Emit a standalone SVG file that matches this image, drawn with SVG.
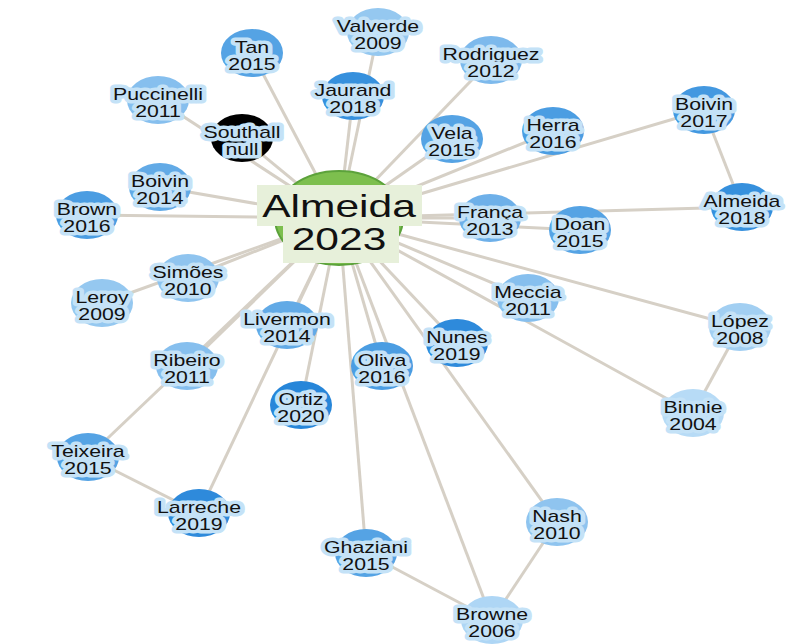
<svg xmlns="http://www.w3.org/2000/svg" width="792" height="644" viewBox="0 0 792 644">
<style>
.e{stroke:#d6d0c6;stroke-width:3;fill:none}
.n text{font-family:"Liberation Sans",Arial,sans-serif;font-size:16px;fill:#111;text-anchor:middle;stroke:#c4e2f7;stroke-width:7;stroke-linejoin:round;paint-order:stroke}
.c text{font-family:"Liberation Sans",Arial,sans-serif;font-size:32px;fill:#111;text-anchor:middle}
.cbg{fill:#e7f0da}
</style>
<rect width="792" height="644" fill="#fff"/>
<g id="edges">
<line class="e" x1="339" y1="218" x2="252" y2="53"/>
<line class="e" x1="339" y1="218" x2="378" y2="32"/>
<line class="e" x1="339" y1="218" x2="353" y2="96"/>
<line class="e" x1="339" y1="218" x2="491" y2="60"/>
<line class="e" x1="339" y1="218" x2="158" y2="100"/>
<line class="e" x1="339" y1="218" x2="242" y2="138"/>
<line class="e" x1="339" y1="218" x2="452" y2="139"/>
<line class="e" x1="339" y1="218" x2="553" y2="131"/>
<line class="e" x1="339" y1="218" x2="704" y2="110"/>
<line class="e" x1="339" y1="218" x2="160" y2="187"/>
<line class="e" x1="339" y1="218" x2="87" y2="215"/>
<line class="e" x1="339" y1="218" x2="742" y2="207"/>
<line class="e" x1="339" y1="218" x2="490" y2="218"/>
<line class="e" x1="339" y1="218" x2="580" y2="230"/>
<line class="e" x1="339" y1="218" x2="188" y2="278"/>
<line class="e" x1="339" y1="218" x2="102" y2="303"/>
<line class="e" x1="339" y1="218" x2="528" y2="298"/>
<line class="e" x1="339" y1="218" x2="740" y2="327"/>
<line class="e" x1="339" y1="218" x2="287" y2="325"/>
<line class="e" x1="339" y1="218" x2="457" y2="343"/>
<line class="e" x1="339" y1="218" x2="187" y2="366"/>
<line class="e" x1="339" y1="218" x2="382" y2="366"/>
<line class="e" x1="339" y1="218" x2="301" y2="405"/>
<line class="e" x1="339" y1="218" x2="693" y2="413"/>
<line class="e" x1="339" y1="218" x2="88" y2="457"/>
<line class="e" x1="339" y1="218" x2="199" y2="513"/>
<line class="e" x1="339" y1="218" x2="557" y2="522"/>
<line class="e" x1="339" y1="218" x2="366" y2="553"/>
<line class="e" x1="339" y1="218" x2="492" y2="620"/>
<line class="e" x1="704" y1="110" x2="742" y2="207"/>
<line class="e" x1="740" y1="327" x2="693" y2="413"/>
<line class="e" x1="88" y1="457" x2="199" y2="513"/>
<line class="e" x1="366" y1="553" x2="492" y2="620"/>
<line class="e" x1="557" y1="522" x2="492" y2="620"/>
</g>
<g id="n-center" class="c" transform="translate(339,218)"><ellipse rx="64" ry="47" fill="#7dbf4e" stroke="#5ca23b" stroke-width="2"/><rect class="cbg" x="-82" y="-33" width="165" height="41"/><rect class="cbg" x="-56" y="7" width="116" height="38"/><g transform="scale(1.33,1)"><text y="-1">Almeida</text><text y="32">2023</text></g></g>
<g id="n-tan" class="n" transform="translate(252,53)"><ellipse rx="31" ry="24" fill="#55a3e4"/><g transform="scale(1.33,1)"><text y="0">Tan</text><text y="17">2015</text></g></g>
<g id="n-valverde" class="n" transform="translate(378,32)"><ellipse rx="31" ry="24" fill="#95c8f0"/><g transform="scale(1.33,1)"><text y="0">Valverde</text><text y="17">2009</text></g></g>
<g id="n-jaurand" class="n" transform="translate(353,96)"><ellipse rx="31" ry="24" fill="#3690dd"/><g transform="scale(1.33,1)"><text y="0">Jaurand</text><text y="17">2018</text></g></g>
<g id="n-rodriguez" class="n" transform="translate(491,60)"><ellipse rx="31" ry="24" fill="#7db9ec"/><g transform="scale(1.33,1)"><text y="0">Rodriguez</text><text y="17">2012</text></g></g>
<g id="n-puccinelli" class="n" transform="translate(158,100)"><ellipse rx="31" ry="24" fill="#86bfee"/><g transform="scale(1.33,1)"><text y="0">Puccinelli</text><text y="17">2011</text></g></g>
<g id="n-southall" class="n" transform="translate(242,138)"><ellipse rx="31" ry="24" fill="#000"/><g transform="scale(1.33,1)"><text y="0">Southall</text><text y="17">null</text></g></g>
<g id="n-vela" class="n" transform="translate(452,139)"><ellipse rx="31" ry="24" fill="#55a3e4"/><g transform="scale(1.33,1)"><text y="0">Vela</text><text y="17">2015</text></g></g>
<g id="n-herra" class="n" transform="translate(553,131)"><ellipse rx="31" ry="24" fill="#4b9de2"/><g transform="scale(1.33,1)"><text y="0">Herra</text><text y="17">2016</text></g></g>
<g id="n-boivin2017" class="n" transform="translate(704,110)"><ellipse rx="31" ry="24" fill="#4398e0"/><g transform="scale(1.33,1)"><text y="0">Boivin</text><text y="17">2017</text></g></g>
<g id="n-boivin2014" class="n" transform="translate(160,187)"><ellipse rx="31" ry="24" fill="#62aae6"/><g transform="scale(1.33,1)"><text y="0">Boivin</text><text y="17">2014</text></g></g>
<g id="n-brown" class="n" transform="translate(87,215)"><ellipse rx="31" ry="24" fill="#4b9de2"/><g transform="scale(1.33,1)"><text y="0">Brown</text><text y="17">2016</text></g></g>
<g id="n-almeida2018" class="n" transform="translate(742,207)"><ellipse rx="31" ry="24" fill="#3690dd"/><g transform="scale(1.33,1)"><text y="0">Almeida</text><text y="17">2018</text></g></g>
<g id="n-franca" class="n" transform="translate(490,218)"><ellipse rx="31" ry="24" fill="#6eb0e9"/><g transform="scale(1.33,1)"><text y="0">França</text><text y="17">2013</text></g></g>
<g id="n-doan" class="n" transform="translate(580,230)"><ellipse rx="31" ry="24" fill="#55a3e4"/><g transform="scale(1.33,1)"><text y="0">Doan</text><text y="17">2015</text></g></g>
<g id="n-simoes" class="n" transform="translate(188,278)"><ellipse rx="31" ry="24" fill="#8fc4ef"/><g transform="scale(1.33,1)"><text y="0">Simões</text><text y="17">2010</text></g></g>
<g id="n-leroy" class="n" transform="translate(102,303)"><ellipse rx="31" ry="24" fill="#95c8f0"/><g transform="scale(1.33,1)"><text y="0">Leroy</text><text y="17">2009</text></g></g>
<g id="n-meccia" class="n" transform="translate(528,298)"><ellipse rx="31" ry="24" fill="#86bfee"/><g transform="scale(1.33,1)"><text y="0">Meccia</text><text y="17">2011</text></g></g>
<g id="n-lopez" class="n" transform="translate(740,327)"><ellipse rx="31" ry="24" fill="#a2cff2"/><g transform="scale(1.33,1)"><text y="0">López</text><text y="17">2008</text></g></g>
<g id="n-livermon" class="n" transform="translate(287,325)"><ellipse rx="31" ry="24" fill="#62aae6"/><g transform="scale(1.33,1)"><text y="0">Livermon</text><text y="17">2014</text></g></g>
<g id="n-nunes" class="n" transform="translate(457,343)"><ellipse rx="31" ry="24" fill="#2e8adb"/><g transform="scale(1.33,1)"><text y="0">Nunes</text><text y="17">2019</text></g></g>
<g id="n-ribeiro" class="n" transform="translate(187,366)"><ellipse rx="31" ry="24" fill="#86bfee"/><g transform="scale(1.33,1)"><text y="0">Ribeiro</text><text y="17">2011</text></g></g>
<g id="n-oliva" class="n" transform="translate(382,366)"><ellipse rx="31" ry="24" fill="#4b9de2"/><g transform="scale(1.33,1)"><text y="0">Oliva</text><text y="17">2016</text></g></g>
<g id="n-ortiz" class="n" transform="translate(301,405)"><ellipse rx="31" ry="24" fill="#2786d9"/><g transform="scale(1.33,1)"><text y="0">Ortiz</text><text y="17">2020</text></g></g>
<g id="n-binnie" class="n" transform="translate(693,413)"><ellipse rx="31" ry="24" fill="#b7dbf6"/><g transform="scale(1.33,1)"><text y="0">Binnie</text><text y="17">2004</text></g></g>
<g id="n-teixeira" class="n" transform="translate(88,457)"><ellipse rx="31" ry="24" fill="#55a3e4"/><g transform="scale(1.33,1)"><text y="0">Teixeira</text><text y="17">2015</text></g></g>
<g id="n-larreche" class="n" transform="translate(199,513)"><ellipse rx="31" ry="24" fill="#2e8adb"/><g transform="scale(1.33,1)"><text y="0">Larreche</text><text y="17">2019</text></g></g>
<g id="n-nash" class="n" transform="translate(557,522)"><ellipse rx="31" ry="24" fill="#8fc4ef"/><g transform="scale(1.33,1)"><text y="0">Nash</text><text y="17">2010</text></g></g>
<g id="n-ghaziani" class="n" transform="translate(366,553)"><ellipse rx="31" ry="24" fill="#55a3e4"/><g transform="scale(1.33,1)"><text y="0">Ghaziani</text><text y="17">2015</text></g></g>
<g id="n-browne" class="n" transform="translate(492,620)"><ellipse rx="31" ry="24" fill="#aed6f5"/><g transform="scale(1.33,1)"><text y="0">Browne</text><text y="17">2006</text></g></g>
</svg>
